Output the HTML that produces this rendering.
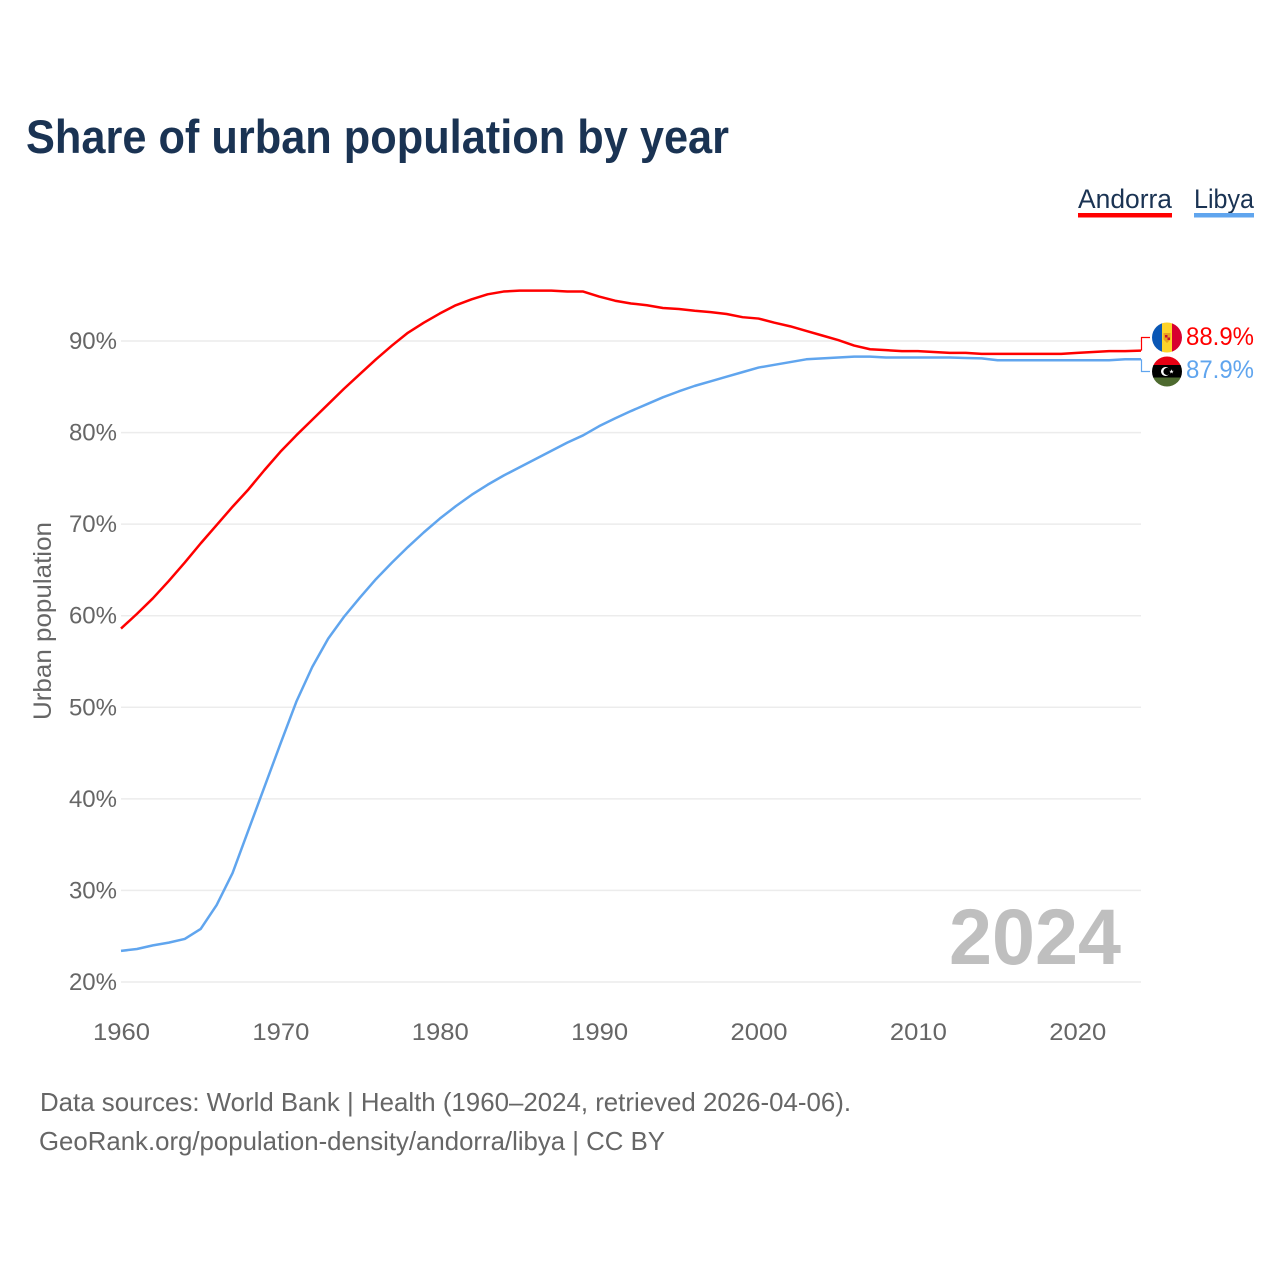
<!DOCTYPE html>
<html lang="en">
<head>
<meta charset="utf-8">
<title>Share of urban population by year</title>
<style>
html,body{margin:0;padding:0;background:#fff;}
svg{display:block;font-family:"Liberation Sans",sans-serif;}
</style>
</head>
<body>
<svg id="chart" width="1280" height="1280" viewBox="0 0 1280 1280" xmlns="http://www.w3.org/2000/svg">
  <rect width="1280" height="1280" fill="#ffffff"/>
  <text x="26" y="153" font-size="47" font-weight="700" fill="#1a3353" textLength="703" lengthAdjust="spacingAndGlyphs">Share of urban population by year</text>

  <g>
    <text x="1078" y="208" font-size="27" fill="#1a3353" textLength="94" lengthAdjust="spacingAndGlyphs">Andorra</text>
    <rect x="1078" y="213" width="94" height="4.500" fill="#ff0000"/>
  </g>
  <g>
    <text x="1194" y="208" font-size="27" fill="#1a3353" textLength="60" lengthAdjust="spacingAndGlyphs">Libya</text>
    <rect x="1194" y="213" width="60" height="4.500" fill="#60a5ee"/>
  </g>

  <g id="grid"></g>
  <g id="yticks"></g>
  <g id="xticks"></g>
  <text transform="translate(51,621) rotate(-90)" text-anchor="middle" font-size="25" fill="#666666" textLength="198" lengthAdjust="spacingAndGlyphs">Urban population</text>

  <text x="949" y="964" font-size="79" font-weight="700" fill="#bfbfbf" textLength="172" lengthAdjust="spacingAndGlyphs">2024</text>

  <g id="series"></g>

  <defs>
    <clipPath id="flag-clip-andorra"><circle cx="1167" cy="337.5" r="15"/></clipPath>
    <clipPath id="flag-clip-libya"><circle cx="1167" cy="371.5" r="15"/></clipPath>
  </defs>
  <g clip-path="url(#flag-clip-andorra)">
    <rect x="1152" y="322" width="10.5" height="31" fill="#0a57b5"/>
    <rect x="1162" y="322" width="10" height="31" fill="#fdd32a"/>
    <rect x="1172" y="322" width="10" height="31" fill="#d8002f"/>
    <path d="M1163.5 333h7v6.5l-3.500 3.500l-3.500-3.500z" fill="#e8a020"/>
    <rect x="1165" y="335" width="2.500" height="2.500" fill="#c8102e"/>
    <rect x="1167.500" y="337.500" width="2.500" height="2.500" fill="#c8102e"/>
  </g>
  <g clip-path="url(#flag-clip-libya)">
    <rect x="1152" y="356" width="30" height="10" fill="#e70013"/>
    <rect x="1152" y="365" width="30" height="13" fill="#000000"/>
    <rect x="1152" y="377.500" width="30" height="10" fill="#4d6a2f"/>
    <circle cx="1165.500" cy="371.500" r="4.500" fill="#ffffff"/>
    <circle cx="1167" cy="371.500" r="3.600" fill="#000000"/>
    <polygon points="1171.500,369.300 1172.100,370.900 1173.800,370.900 1172.400,371.900 1173,373.500 1171.500,372.500 1170,373.500 1170.600,371.900 1169.200,370.900 1170.900,370.900" fill="#ffffff"/>
  </g>

  <text x="1186" y="345" font-size="25" fill="#ff0000" textLength="68" lengthAdjust="spacingAndGlyphs">88.9%</text>
  <text x="1186" y="378" font-size="25" fill="#60a5ee" textLength="68" lengthAdjust="spacingAndGlyphs">87.9%</text>

  <text x="40" y="1111" font-size="26" fill="#666666" textLength="811" lengthAdjust="spacingAndGlyphs">Data sources: World Bank | Health (1960–2024, retrieved 2026-04-06).</text>
  <text x="39" y="1150" font-size="26" fill="#666666" textLength="626" lengthAdjust="spacingAndGlyphs">GeoRank.org/population-density/andorra/libya | CC BY</text>
</svg>
<script>
const years = [1960,1961,1962,1963,1964,1965,1966,1967,1968,1969,1970,1971,1972,1973,1974,1975,1976,1977,1978,1979,1980,1981,1982,1983,1984,1985,1986,1987,1988,1989,1990,1991,1992,1993,1994,1995,1996,1997,1998,1999,2000,2001,2002,2003,2004,2005,2006,2007,2008,2009,2010,2011,2012,2013,2014,2015,2016,2017,2018,2019,2020,2021,2022,2023,2024];
const andorraValues = [58.6,60.2,61.9,63.8,65.8,67.9,69.9,71.9,73.8,75.9,77.9,79.7,81.4,83.1,84.8,86.4,88.0,89.5,90.9,92.0,93.0,93.9,94.55,95.1,95.4,95.5,95.5,95.5,95.4,95.4,94.85,94.4,94.1,93.9,93.6,93.5,93.3,93.15,92.95,92.6,92.45,92.0,91.6,91.1,90.6,90.1,89.5,89.1,89.0,88.9,88.9,88.8,88.7,88.7,88.6,88.6,88.6,88.6,88.6,88.6,88.7,88.8,88.9,88.9,88.95];
const libyaValues = [23.4,23.6,24.0,24.3,24.7,25.8,28.4,31.9,36.6,41.3,46.0,50.6,54.4,57.5,59.9,62.0,64.0,65.8,67.5,69.1,70.6,71.95,73.2,74.3,75.3,76.2,77.1,78.0,78.9,79.7,80.7,81.55,82.35,83.1,83.85,84.5,85.1,85.6,86.1,86.6,87.1,87.4,87.7,88.0,88.1,88.2,88.3,88.3,88.2,88.2,88.2,88.2,88.2,88.15,88.1,87.9,87.9,87.9,87.9,87.9,87.9,87.9,87.9,88.0,88.0];
const yTickValues = [20,30,40,50,60,70,80,90];
const xTickValues = [1960,1970,1980,1990,2000,2010,2020];

const NS = 'http://www.w3.org/2000/svg';
function xScale(year){ return 121 + (year - 1960) * (1141 - 121) / (2024 - 1960); }
function yScale(value){ return 982 - (value - 20) * (982 - 341) / (90 - 20); }
function make(tag, parent){
  const el = document.createElementNS(NS, tag);
  parent.appendChild(el);
  return el;
}

const grid = document.getElementById('grid');
const yticks = document.getElementById('yticks');
yTickValues.forEach(function(v){
  const line = make('line', grid);
  
  
  line.setAttribute('x1', 121);
  line.setAttribute('x2', 1141);
  line.setAttribute('y1', yScale(v));
  line.setAttribute('y2', yScale(v));
  line.setAttribute('stroke', '#ececec');
  line.setAttribute('stroke-width', '1.5');
  const label = make('text', yticks);
  
  
  label.setAttribute('x', 117);
  label.setAttribute('y', yScale(v) + 8);
  label.setAttribute('text-anchor', 'end');
  label.setAttribute('font-size', '24');
  label.setAttribute('fill', '#666666');
  label.textContent = v + '%';
});

const xticks = document.getElementById('xticks');
xTickValues.forEach(function(y){
  const label = make('text', xticks);
  
  
  label.setAttribute('x', xScale(y) + 0.5);
  label.setAttribute('y', 1040);
  label.setAttribute('text-anchor', 'middle');
  label.setAttribute('font-size', '24.5');
  label.setAttribute('fill', '#666666');
  label.setAttribute('textLength', '57');
  label.setAttribute('lengthAdjust', 'spacingAndGlyphs');
  label.textContent = y;
});

const seriesGroup = document.getElementById('series');
function linePath(values){
  return values.map(function(v, i){
    return (i ? 'L' : 'M') + xScale(years[i]).toFixed(2) + ' ' + yScale(v).toFixed(2);
  }).join(' ');
}
function drawSeries(values, color, name, flagY){
  const path = make('path', seriesGroup);
  
  
  path.setAttribute('d', linePath(values));
  path.setAttribute('fill', 'none');
  path.setAttribute('stroke', color);
  path.setAttribute('stroke-width', '2.5');
  path.setAttribute('stroke-linejoin', 'round');
  const connector = make('path', seriesGroup);
  
  
  const endY = yScale(values[values.length - 1]);
  connector.setAttribute('d', 'M1141.5 ' + endY.toFixed(2) + ' V' + flagY + ' H1150');
  connector.setAttribute('fill', 'none');
  connector.setAttribute('stroke', color);
  connector.setAttribute('stroke-width', '1.2');
}
drawSeries(libyaValues, '#60a5ee', 'libya', 371.5);
drawSeries(andorraValues, '#ff0000', 'andorra', 337.5);
</script>
</body>
</html>
